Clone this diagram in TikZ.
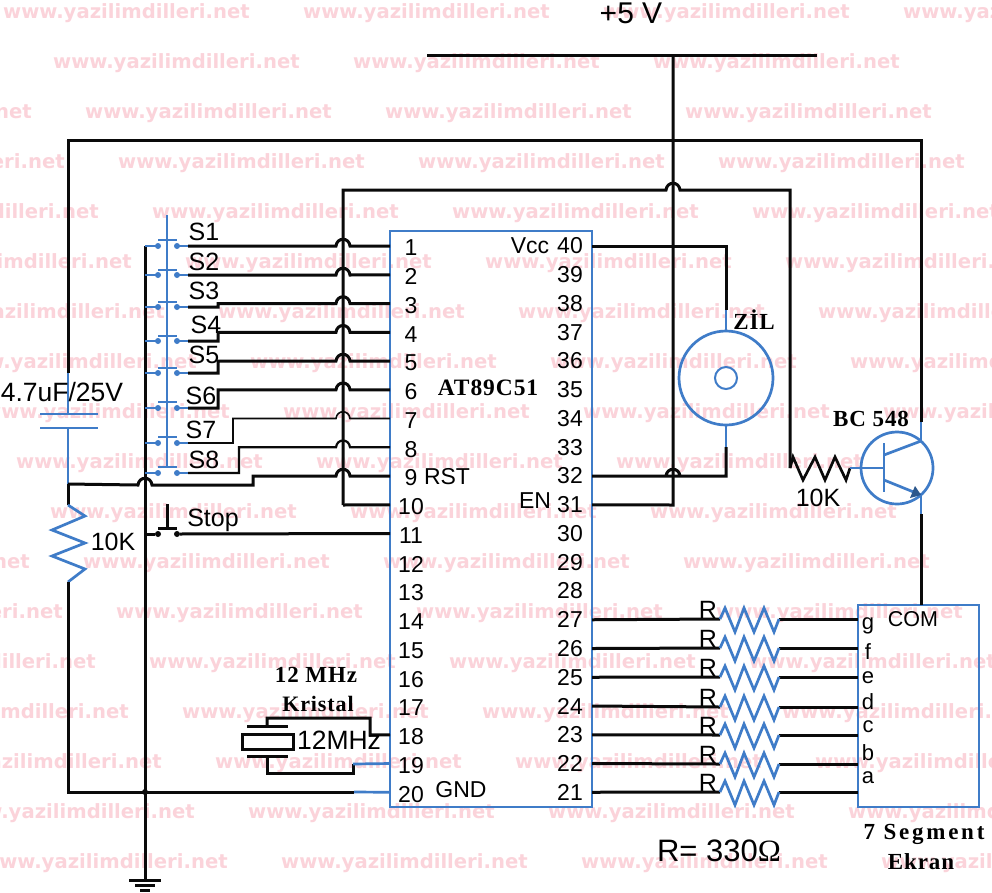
\documentclass[tikz,border=0pt]{standalone}
\usepackage{fontspec}
\setmainfont{Liberation Sans}
\newfontfamily\serifb{Liberation Serif}[LetterSpace=4]
\newfontfamily\serifw{Liberation Serif}[LetterSpace=12]
\newfontfamily\serifo{Liberation Serif}
\newfontfamily\wmfont{DejaVu Sans}
\definecolor{wmpink}{HTML}{FBD3DA}
\definecolor{wireblue}{HTML}{3F7CC8}
\definecolor{wireblack}{HTML}{0A0A0A}
\tikzset{
  wire/.style={draw=wireblack,line width=3pt,line join=miter},
  thinwire/.style={draw=wireblack,line width=1.6pt},
  bluewire/.style={draw=wireblue,line width=2.7pt},
  wmtext/.style={anchor=west,inner sep=0pt,text=wmpink,font=\wmfont\bfseries\fontsize{19.6}{20}\selectfont},
  pinnum/.style={inner sep=0pt,font=\fontsize{23}{23}\selectfont},
  lab/.style={inner sep=0pt,font=\fontsize{25}{25}\selectfont},
  seglab/.style={inner sep=0pt,font=\fontsize{20}{20}\selectfont},
  serlab/.style={inner sep=0pt,font=\serifb\bfseries\fontsize{23}{23}\selectfont},
  term/.style={circle,fill=wireblue,inner sep=0pt,minimum size=6pt},
}
\newcommand{\hopat}[2]{-- ({#1-7},#2) .. controls ({#1-6},{#2-9}) and ({#1+6},{#2-9}) .. ({#1+7},#2)}
\begin{document}
\begin{tikzpicture}[x=1pt,y=-1pt]
\useasboundingbox (0,0) rectangle (992,892);
\fill[white] (0,0) rectangle (992,892);
% watermark
\begin{scope}
\clip (0,0) rectangle (992,892);
\foreach \wy/\wo in {12/3,62/53,112/85,162/118,212/152,262/185,312/218,362/250,412/283,462/16,512/50,562/83,612/116,662/149,712/182,762/215,812/248,862/281}{
  \foreach \k in {-1,0,1,2,3}{
    \pgfmathtruncatemacro\wx{\wo+300*\k}
    \ifnum\wx<905
      \node[wmtext] (wm\wy-\k) at (\wx,{\wy+1.5}) {www.yazilimdilleri.net};
    \fi
  }
}
\end{scope}
% pins
\foreach \n in {1,...,20}{
  \coordinate (L\n) at (390,{246+28.75*(\n-1)});
  \node[pinnum,anchor=center] (ln\n) at (411,{248+28.75*(\n-1)}) {\n};
}
\foreach \n in {21,...,40}{
  \coordinate (R\n) at (592,{246+28.75*(40-\n)});
  \node[pinnum,anchor=center] (ln\n) at (570,{246+28.75*(40-\n)}) {\n};
}
% chip
\node[draw=wireblue,line width=2.7pt,minimum width=202pt,minimum height=576pt,inner sep=0pt] (chip) at (491,519) {};
\node[serlab,font=\serifb\bfseries\fontsize{23.5}{23.5}\selectfont] (chipname) at (488,388) {AT89C51};
\node[pinnum] (vcc) at (530,246) {Vcc};
\node[pinnum] (rst) at (447,477) {RST};
\node[pinnum] (en) at (535,501) {EN};
\node[pinnum] (gnd) at (461,790) {GND};
% supply
\coordinate (railL) at (427,55);
\coordinate (railR) at (817,55);
\coordinate (railT) at (673,55);
\coordinate (railB) at (673,505);
\draw[wire] (railL) -- (railR);
\draw[wire] (railT) -- (railB) -- (R31);
\node[inner sep=0pt,font=\fontsize{30}{30}\selectfont] (plus) at (631,13) {+5 V};
% top wire, reset common
\coordinate (topL) at (68,140);
\coordinate (topR) at (921,140);
\coordinate (colB) at (921,422);
\coordinate (colE) at (921,441);
\coordinate (cTop) at (68,373);
\draw[wire] (cTop) -- (topL) -- (topR) -- (colB);
\draw[bluewire] (colB) -- (colE);
% capacitor
\coordinate (p1L) at (40,414); \coordinate (p1R) at (98,414);
\coordinate (p2L) at (40,428); \coordinate (p2R) at (98,428);
\coordinate (cP1) at (68,414); \coordinate (cP2) at (68,428);
\coordinate (cB) at (68,484);
\draw[bluewire] (cTop) -- (cP1);
\draw[bluewire] (p1L) -- (p1R);
\draw[bluewire] (p2L) -- (p2R);
\draw[bluewire] (cP2) -- (cB);
\node[lab,font=\fontsize{26.5}{26.5}\selectfont] (clab) at (62,392) {4.7uF/25V};
% resistor 10K reset
\coordinate (rA) at (68,505);
\coordinate (rB) at (68,582);
\draw[wire] (cB) -- (rA);
\draw[bluewire,line join=miter] (rA) -- (85,516) -- (52,530) -- (85,543) -- (52,556) -- (85,569) -- (rB);
\coordinate (gndC) at (68,792);
\coordinate (gndJ) at (145,792);
\coordinate (gndM) at (354,792);
\draw[wire] (rB) -- (gndC) -- (gndM);
\draw[bluewire] (gndM) -- (L20);
\node[lab] (rlab) at (113,542) {10K};
% RST
\coordinate (rst1) at (253,485);
\coordinate (rst2) at (253,476);
\draw[wire] (cB) \hopat{145}{485} -- (rst1) -- (rst2) \hopat{343}{476} -- (L9);
% bus
\coordinate (busT) at (145,246);
\coordinate (gT) at (145,880);
\draw[wire] (busT) -- (gT);
\draw[wireblack,line width=3pt] (129,880) -- (161,880);
\draw[wireblack,line width=3pt] (135,885.5) -- (155,885.5);
\draw[wireblack,line width=3pt] (140,890) -- (150,890);
\fill[wireblack] (gndJ) circle (3pt);
% line to pin 10 side vertical
\coordinate (v343T) at (343,190);
\coordinate (v343B) at (343,505);
\coordinate (v790T) at (790,190);
\coordinate (v790B) at (790,468);
\draw[wire] (v343B) -- (v343T) \hopat{673}{190} -- (v790T) -- (v790B);
\draw[wire] (v343B) -- (L10);
% switches
\foreach \i/\ty/\by/\pt in {1/246/240/215,2/275/270/240,3/307/302/270,4/341/336/302,5/373/368/336,6/408/402/368,7/443/437/402,8/473/467/437}{
  \coordinate (bs\i) at (145,\ty);
  \coordinate (ta\i) at (158,\ty);
  \coordinate (tb\i) at (177,\ty);
  \coordinate (tc\i) at (188,\ty);
  \draw[bluewire] (bs\i) -- (ta\i);
  \draw[bluewire] (tb\i) -- (tc\i);
  \draw[bluewire,line width=2.2pt] (158,\by) -- (177,\by);
  \draw[bluewire,line width=2.2pt] (167,\by) -- (167,\pt);
  \node[term] (dota\i) at (ta\i) {};
  \node[term] (dotb\i) at (tb\i) {};
}
\foreach \i/\lx/\ly in {1/204/232,2/204/262,3/204/291,4/206/325,5/204/355,6/201/396,7/201/430,8/204/460}{
  \node[lab] (slab\i) at (\lx,\ly) {S\i};
}
% switch wires
\draw[wire] (tc1) \hopat{343}{246} -- (L1);
\draw[wire] (tc2) \hopat{343}{275} -- (L2);
\draw[wire] (tc3) -- (218,307) -- (218,303.5) \hopat{343}{303.5} -- (L3);
\draw[wire] (tc4) -- (218,341) -- (218,332.25) \hopat{343}{332.25} -- (L4);
\draw[wire] (tc5) -- (218,373) -- (218,361) \hopat{343}{361} -- (L5);
\draw[wire] (tc6) -- (218,408) -- (218,389.75) \hopat{343}{389.75} -- (L6);
\draw[thinwire] (tc7) -- (233,443) -- (233,418.5) \hopat{343}{418.5} -- (L7);
\draw[wire,line width=2.2pt] (tc8) -- (239,473) -- (239,447.25) \hopat{343}{447.25} -- (L8);
% stop
\coordinate (stA) at (145,534);
\node[term,fill=wireblack] (stL) at (158,534) {};
\node[term,fill=wireblack] (stR) at (177,534) {};
\draw[wire] (stA) -- (stL);
\draw[wire] (stR) -- (L11);
\draw[wire] (158,528) -- (177,528);
\draw[wire] (167,528) -- (167,504);
\node[lab] (stoplab) at (213,520) {Stop};
% crystal
\coordinate (x18) at (370,735);
\coordinate (x18t) at (370,718);
\coordinate (xtl) at (267,718);
\coordinate (xp1) at (267,726);
\coordinate (xp2) at (267,756);
\coordinate (xbl) at (267,773);
\coordinate (xbr) at (353,773);
\coordinate (x19) at (353,764);
\draw[wire] (L18) -- (x18) -- (x18t) -- (xtl) -- (xp1);
\draw[wire] (247,726) -- (288,726);
\draw[wire] (242,734) rectangle (293,749);
\draw[wire] (247,756) -- (288,756);
\draw[wire] (xp2) -- (xbl) -- (xbr) -- (x19);
\draw[bluewire] (x19) -- (L19);
\node[lab,font=\fontsize{26.5}{26.5}\selectfont] (xlab) at (339,740) {12MHz};
\node[serlab,font=\serifb\bfseries\fontsize{23}{23}\selectfont] (xt1) at (316,675) {12 MHz};
\node[serlab,font=\serifb\bfseries\fontsize{22}{22}\selectfont] (xt2) at (318,704) {Kristal};
% buzzer
\node[circle,draw=wireblue,line width=2.7pt,minimum size=94pt,inner sep=0pt] (bz) at (726,378) {};
\node[circle,draw=wireblue,line width=2pt,minimum size=22pt,inner sep=0pt] (bzin) at (726,378) {};
\coordinate (bzt) at (726,310);
\coordinate (bzb) at (726,447);
\coordinate (bz40) at (726,246);
\coordinate (bz32) at (726,476);
\draw[wire] (R40) -- (bz40) -- (bzt);
\draw[bluewire] (bzt) -- (bz.north);
\draw[bluewire] (bz.south) -- (bzb);
\draw[wire] (bzb) -- (bz32) \hopat{673}{476} -- (R32);
\node[serlab] (zil) at (754,320) {ZİL};
% base resistor and transistor
\coordinate (rbE) at (850,468);
\draw[wireblack,line width=2.7pt,line join=miter] (v790B) -- (793,457) -- (803,480) -- (815,457) -- (825,480) -- (835,457) -- (846,480) -- (rbE);
\node[lab] (blab) at (818,498) {10K};
\node[circle,draw=wireblue,line width=2.7pt,minimum size=72pt,inner sep=0pt] (qc) at (897,468) {};
\draw[bluewire] (rbE) -- (884,468);
\draw[bluewire] (884,443) -- (884,492);
\draw[bluewire] (884,455) -- (colE);
\coordinate (emit) at (921,495);
\coordinate (emB) at (921,514);
\draw[bluewire] (884,480) -- (emit);
\fill[wireblue!70!black] (emit) -- (910,498) -- (915,486) -- cycle;
\draw[bluewire] (emit) -- (emB);
\node[serlab] (bc) at (871,419) {BC 548};
% 7-seg
\node[draw=wireblue,line width=2.7pt,minimum width=121pt,minimum height=202pt,inner sep=0pt] (seg) at (918.5,706) {};
\draw[wire] (emB) -- (921,605);
\node[seglab,font=\fontsize{21.5}{21.5}\selectfont] (com) at (913,619) {COM};
\foreach \l/\ly in {g/626,f/652,e/678,d/702,c/727,b/753,a/778}{
  \node[seglab,font=\fontsize{22}{22}\selectfont] (sl\l) at (868,\ly) {\l};
}
\foreach \n/\yy in {27/619,26/648,25/677,24/707,23/735,22/764,21/792}{
  \coordinate (ra\n) at (720,\yy);
  \coordinate (rb\n) at (779,\yy);
  \coordinate (rs\n) at (858,\yy);
  \draw[wire] (R\n) -- (ra\n);
  \draw[wire] (rb\n) -- (rs\n);
  \draw[bluewire,line join=miter] (ra\n) -- (725,{\yy-11}) -- (735,{\yy+13}) -- (744,{\yy-11}) -- (754,{\yy+13}) -- (764,{\yy-11}) -- (774,{\yy+13}) -- (rb\n);
  \node[lab] (rl\n) at (708,{\yy-9}) {R};
}
\node[inner sep=0pt,font=\fontsize{31}{31}\selectfont] (rval) at (719,851) {R= 330{\serifo Ω}};
\node[inner sep=0pt,font=\serifw\bfseries\fontsize{23}{23}\selectfont] (seg1) at (924,834) {7 Segment};
\node[inner sep=0pt,font=\serifb\bfseries\fontsize{23}{23}\selectfont] (seg2) at (921,862) {Ekran};
\end{tikzpicture}
\end{document}
